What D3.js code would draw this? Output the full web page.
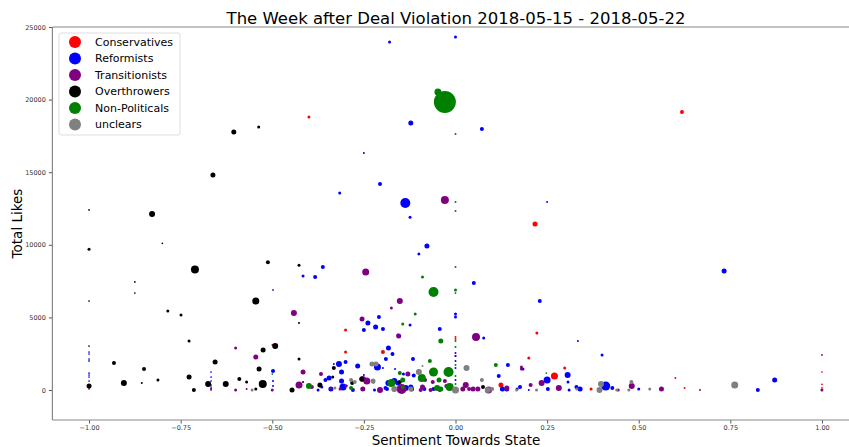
<!DOCTYPE html>
<html>
<head>
<meta charset="utf-8">
<script src="https://cdn.jsdelivr.net/npm/d3@7"></script>
<style>
  body { margin: 0; background: #fff; }
  text { font-family: "DejaVu Sans", sans-serif; }
</style>
</head>
<body>
<script>
// [sentiment, likes, weight]
const conservatives = [
    [-0.40, 18800, 45], [0.618, 19150, 80], [0.217, 11430, 125], [-0.30, 4130, 45], [-0.30, 2620, 45],
    [-0.198, 2620, 80], [0.222, 3930, 45], [0.20, 2200, 45], [0.298, 1510, 45], [0.27, 964, 245],
    [0.124, 345, 125], [0.37, 70, 45], [0.60, 826, 20], [0.625, 140, 20], [1.0, 2410, 20],
    [1.0, 1240, 15], [1.0, 390, 15], [1.0, 150, 15], [-1.0, 345, 15], [-1.0, 70, 15],
    [-0.667, 70, 15], [-0.5, 3100, 15], [0, 3650, 20], [0, 3510, 20], [0, 2340, 20]
];
const reformists = [
    [-0.18, 23970, 45], [0.0, 24310, 45], [-0.122, 18390, 125], [0.072, 17970, 80], [-0.25, 16320, 20],
    [-0.206, 14190, 80], [-0.316, 13570, 45], [-0.137, 12880, 500], [-0.124, 11900, 45], [-0.078, 9920, 125],
    [-0.10, 9370, 45], [-0.362, 8470, 80], [-0.416, 7850, 45], [-0.383, 7780, 80], [0.05, 7370, 80],
    [0.23, 6130, 80], [0.25, 12950, 20], [0.733, 8200, 125], [-0.498, 6890, 15],
    [0, 5240, 45], [0, 5030, 45], [-0.043, 4200, 80], [0.077, 3580, 45], [0.334, 3375, 20],
    [0.40, 2410, 45], [0.143, 1720, 80], [0.118, 964, 80], [0.184, 1446, 45], [0.25, 690, 245],
    [0.306, 1033, 180], [0.307, 550, 45], [0.41, 275, 405], [0.252, 70, 80], [0.34, 70, 125],
    [0.33, 200, 80], [0.168, 70, 45], [0.128, 70, 125], [0.14, 70, 125], [0.2, 0, 20],
    [0.31, 0, 45], [0.5, 70, 45], [0.428, 140, 80], [0.825, 0, 80], [0.871, 690, 125], [0.176, 200, 80],
    [-1, 2617, 15], [-1, 2480, 15], [-1, 2135, 15], [-1, 2000, 15], [-1, 1170, 15], [-1, 1033, 15],
    [-1, 895, 15], [-1, 620, 15],
    [-0.667, 1240, 15], [-0.667, 895, 15], [-0.667, 620, 15], [-0.667, 345, 15], [-0.667, 207, 15], [-0.667, 70, 15],
    [-0.498, 1310, 80], [-0.498, 620, 20], [-0.498, 275, 20],
    [-0.332, 1790, 20], [-0.318, 1790, 180], [-0.311, 1240, 125], [-0.30, 1930, 80], [-0.345, 830, 125],
    [-0.355, 690, 80], [-0.311, 620, 125], [-0.307, 200, 245], [-0.34, 70, 125], [-0.375, 0, 45],
    [-0.365, 200, 45], [-0.28, 0, 80], [-0.267, 1650, 125], [-0.25, 1033, 20], [-0.25, 4130, 80],
    [-0.239, 4610, 125], [-0.218, 4340, 125], [-0.209, 5030, 80], [-0.198, 4200, 80], [-0.213, 1590, 245],
    [-0.198, 1510, 20], [-0.183, 2890, 125], [-0.172, 2480, 80], [-0.19, 2135, 80], [-0.157, 3790, 45],
    [-0.124, 4480, 45], [-0.116, 2135, 80], [-0.167, 620, 180], [-0.183, 480, 180], [-0.157, 480, 125],
    [-0.136, 140, 180], [-0.122, 200, 125], [-0.191, 140, 80], [-0.221, 0, 45], [-0.165, 1450, 20],
    [-0.142, 1100, 45], [-0.114, 1000, 80], [-0.187, 70, 80], [-0.085, 70, 80], [-0.224, 550, 45],
    [-0.12, 70, 125], [-0.06, 70, 80],
    [0, 2550, 20], [0, 2340, 20], [0, 2000, 20], [0, 1510, 20], [0, 690, 20], [0, 6680, 15]
];
const transitionists = [
    [-0.029, 13080, 320], [-0.245, 8130, 245], [-0.152, 6130, 180], [-0.175, 5650, 45], [-0.255, 4890, 125],
    [-0.441, 5300, 180], [0.056, 3650, 320], [-0.545, 2270, 125], [-0.60, 2890, 45], [-0.155, 3720, 125],
    [-0.416, 1240, 125], [-0.427, 345, 245], [-0.367, 1100, 80], [-0.60, 0, 45], [-0.57, 70, 20],
    [-0.5, 0, 45], [-0.392, 200, 80], [-0.34, 100, 45], [-0.253, 760, 180], [-0.242, 620, 245],
    [-0.253, 70, 125], [-0.206, 0, 180], [-0.147, 70, 500], [-0.13, 1100, 125], [-0.083, 690, 80],
    [-0.062, 550, 80], [-0.095, 0, 80], [-0.068, 0, 80], [-0.043, 0, 80], [-0.029, 620, 80],
    [0.028, 345, 180], [0.02, 70, 125], [0.037, 70, 80], [0.048, 70, 125], [0.061, 70, 125],
    [0.09, 0, 245], [0.14, 140, 125], [0.18, 1590, 45], [0.18, 1450, 45], [0.205, 345, 80],
    [0.235, 480, 180], [0.282, 140, 180], [0.444, 0, 45], [0.481, 275, 180], [0.562, 70, 125],
    [0.667, 0, 20], [1.0, 0, 45], [-0.09, 200, 125], [-0.025, 275, 80], [-1.0, 150, 15],
    [-0.667, 0, 15], [-0.298, 300, 45], [-0.315, 70, 45]
];
const overthrowers = [
    [-0.605, 17770, 125], [-0.537, 18110, 45], [-0.662, 14810, 125], [-0.828, 12120, 180], [-1.0, 12400, 15],
    [-0.80, 10100, 15], [-1.0, 9700, 45], [-0.711, 8300, 320], [-0.512, 8800, 80], [-0.427, 8600, 45],
    [-0.875, 7440, 15], [-0.875, 6680, 15], [-1.0, 6130, 15], [-0.785, 5440, 45], [-0.749, 5170, 45],
    [-0.545, 6130, 245], [-0.727, 3375, 45], [-0.932, 1860, 80], [-0.85, 1446, 80], [-0.812, 690, 45],
    [-0.905, 480, 180], [-0.856, 480, 20], [-1.0, 275, 125], [-1.0, 3030, 15], [-0.714, 0, 80],
    [-0.727, 900, 125], [-0.675, 410, 180], [-0.656, 1930, 125], [-0.627, 410, 180], [-0.59, 760, 80],
    [-0.57, 550, 45], [-0.545, 70, 45], [-0.536, 1450, 125], [-0.526, 410, 320], [-0.525, 2750, 125],
    [-0.492, 3030, 180], [-0.427, 4610, 20], [-0.427, 2130, 45], [-0.416, 550, 20], [-0.446, 0, 125],
    [-0.37, 345, 125], [-0.332, 1520, 80], [-0.335, 900, 45], [-0.256, 760, 125], [-0.282, 480, 80],
    [-0.152, 550, 80], [-0.168, 0, 45], [0.075, 200, 80]
];
const nonPoliticals = [
    [-0.029, 19830, 2420], [-0.048, 20520, 245], [0, 17630, 20], [-0.06, 6750, 500], [-0.09, 7780, 45],
    [-0.11, 5240, 45], [0, 6890, 45], [0, 8470, 20], [0, 12950, 20], [0, 12330, 20],
    [-0.04, 3375, 125], [-0.07, 2000, 80], [-0.06, 1240, 405], [-0.019, 1240, 500], [-0.092, 826, 320],
    [-0.045, 690, 125], [-0.04, 70, 125], [-0.016, 200, 320], [-0.054, 70, 45], [0.11, 1720, 80],
    [0.248, 1170, 15], [-0.144, 4550, 45], [-0.152, 1170, 80], [-0.175, 480, 320], [-0.05, 140, 180],
    [-0.144, 200, 80], [-0.40, 275, 180], [-0.285, 140, 80], [-0.144, 690, 125], [0, 3375, 20],
    [0, 2960, 20], [0, 1720, 20], [0, 964, 20], [0, 413, 20], [-0.5, 1100, 15], [-0.1, 1300, 45]
];
const unclears = [
    [0, 0, 245], [0.03, 1510, 180], [0.072, 690, 80], [0.088, 0, 180], [0.1, 70, 80],
    [0.167, 0, 45], [0.221, 0, 45], [0.393, 0, 180], [0.397, 410, 180], [0.44, 0, 45],
    [0.48, 550, 80], [0.473, 0, 45], [0.53, 70, 45], [0.762, 345, 245], [0.331, 70, 45],
    [-0.228, 1790, 125], [-0.217, 1790, 125], [-0.1, 1240, 180], [-0.09, 1650, 20], [-0.225, 620, 125],
    [-0.167, 70, 180], [-0.275, 550, 80], [-0.285, 690, 80], [-0.329, 140, 45], [-0.122, 70, 125],
    [-0.555, 0, 45]
];

const groups = [
    {name: "Conservatives", color: "red", data: conservatives},
    {name: "Reformists", color: "blue", data: reformists},
    {name: "Transitionists", color: "purple", data: transitionists},
    {name: "Overthrowers", color: "black", data: overthrowers},
    {name: "Non-Politicals", color: "green", data: nonPoliticals},
    {name: "unclears", color: "gray", data: unclears}
];

const xTicks = [-1.0, -0.75, -0.5, -0.25, 0, 0.25, 0.5, 0.75, 1.0];
const yTicks = [0, 5000, 10000, 15000, 20000, 25000];

const width = 849;
const height = 447;
const margin = {top: 27, left: 52.4, bottom: 420};

const x = d3.scaleLinear([-1.1, 1.1], [margin.left, 858.6]);
const y = d3.scaleLinear([-2066, 25000], [margin.bottom, margin.top]);
const r = d3.scaleSqrt([0, 2420], [0, 11]);

const svg = d3.select("body").append("svg")
    .attr("width", width)
    .attr("height", height);

svg.append("clipPath").attr("id", "clip")
    .append("rect")
    .attr("x", margin.left).attr("y", margin.top)
    .attr("width", 858.6 - margin.left).attr("height", margin.bottom - margin.top);

// points
const plot = svg.append("g").attr("clip-path", "url(#clip)");
for (const g of groups) {
    plot.append("g")
        .attr("fill", g.color)
        .selectAll("circle")
        .data(g.data)
        .join("circle")
        .attr("cx", d => x(d[0]))
        .attr("cy", d => y(d[1]))
        .attr("r", d => r(d[2]));
}

// axes
const xAxis = d3.axisBottom(x)
    .tickValues(xTicks)
    .tickFormat(d3.format(".2f"))
    .tickSize(3.5)
    .tickPadding(1.5);
const yAxis = d3.axisLeft(y)
    .tickValues(yTicks)
    .tickFormat(d3.format("d"))
    .tickSize(3.5)
    .tickPadding(3);

svg.append("g")
    .attr("transform", `translate(0,${margin.bottom})`)
    .call(xAxis)
    .call(g => g.select(".domain").remove());
svg.append("g")
    .attr("transform", `translate(${margin.left},0)`)
    .call(yAxis)
    .call(g => g.select(".domain").remove());

svg.selectAll(".tick text")
    .style("font-family", "DejaVu Sans")
    .style("font-size", "6.5px")
    .attr("fill", "#333");
svg.selectAll(".tick line").attr("stroke", "#555");

// spines
const spines = svg.append("g").attr("stroke", "#888").attr("stroke-width", 1.2);
spines.append("line").attr("x1", margin.left).attr("x2", margin.left).attr("y1", margin.top).attr("y2", margin.bottom);
spines.append("line").attr("x1", margin.left).attr("x2", width).attr("y1", margin.bottom).attr("y2", margin.bottom);
spines.append("line").attr("x1", margin.left).attr("x2", width).attr("y1", margin.top).attr("y2", margin.top);

// title and labels
svg.append("text")
    .attr("x", 456).attr("y", 24)
    .attr("text-anchor", "middle")
    .style("font-size", "16.5px")
    .text("The Week after Deal Violation 2018-05-15 - 2018-05-22");
svg.append("text")
    .attr("x", 456).attr("y", 445)
    .attr("text-anchor", "middle")
    .style("font-size", "13.5px")
    .text("Sentiment Towards State");
svg.append("text")
    .attr("transform", `translate(22,${(margin.top + margin.bottom) / 2}) rotate(-90)`)
    .attr("text-anchor", "middle")
    .style("font-size", "13.5px")
    .text("Total Likes");

// legend
const legend = svg.append("g").attr("transform", "translate(59,33)");
legend.append("rect")
    .attr("width", 121).attr("height", 102).attr("rx", 2)
    .attr("fill", "white").attr("fill-opacity", 0.8)
    .attr("stroke", "#ddd");
const item = legend.selectAll(".item")
    .data(groups)
    .join("g")
    .attr("transform", (d, i) => `translate(0,${9 + i * 16.5})`);
item.append("circle").attr("cx", 16).attr("r", 6).attr("fill", d => d.color);
item.append("text")
    .attr("x", 36).attr("dy", "0.35em")
    .style("font-size", "11px")
    .text(d => d.name);
</script>
</body>
</html>
